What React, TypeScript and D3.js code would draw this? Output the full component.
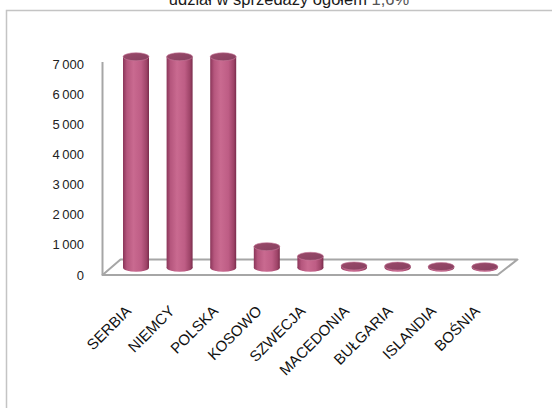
import React from "react";
import * as d3 from "d3";

const categories = ["SERBIA", "NIEMCY", "POLSKA", "KOSOWO", "SZWECJA", "MACEDONIA", "BUŁGARIA", "ISLANDIA", "BOŚNIA"];
const values = [7000, 7000, 7000, 700, 380, 60, 55, 40, 35];
const tickValues = [0, 1000, 2000, 3000, 4000, 5000, 6000, 7000];
const titleMain = "udział  w sprzedaży ogółem ";
const titleValue = "1,6%";

const W = 552;
const H = 408;

const pl = d3.formatLocale({ decimal: ",", thousands: "\u2009", grouping: [3], currency: ["", " zł"] });
const fmt = pl.format(",d");

export default function App() {
  const x = d3.scaleBand<string>().domain(categories).range([114.2, 506.6]).paddingInner(0).paddingOuter(0);
  const y = d3.scaleLinear().domain([0, 7000]).range([275, 64]);

  // floor geometry (oblique projection)
  const frontY = 275;
  const backY = 259.5;
  const depthDx = 20;
  const floorLeft = 102.5;
  const floorRight = 497.5;
  const baseY = (frontY + backY) / 2 + 0.5;
  const barW = 26;
  const ry = 4;

  const font = "'Liberation Sans', Arial, sans-serif";

  return (
    <svg width={W} height={H} style={{ position: "absolute", left: 0, top: 0, background: "#fff" }}>
      <defs>
        <linearGradient id="cyl" x1="0" x2="1" y1="0" y2="0">
          <stop offset="0%" stopColor="#8a3559" />
          <stop offset="15%" stopColor="#b5567d" />
          <stop offset="40%" stopColor="#c96a90" />
          <stop offset="70%" stopColor="#be5d85" />
          <stop offset="90%" stopColor="#9e4468" />
          <stop offset="100%" stopColor="#7a2c4c" />
        </linearGradient>
        <linearGradient id="cap" x1="0" x2="1" y1="0" y2="1">
          <stop offset="0%" stopColor="#9a4a6a" />
          <stop offset="100%" stopColor="#874060" />
        </linearGradient>
      </defs>

      {/* chart frame */}
      <rect x={6.5} y={10.5} width={W + 20} height={H + 20} fill="none" stroke="#c4c4c4" strokeWidth={1.5} />

      {/* title */}
      <text x={289} y={5} textAnchor="middle" fontFamily={font} fontSize={16.5} fill="#1a1a1a">
        {titleMain}
        <tspan fill="#555">{titleValue}</tspan>
      </text>

      {/* floor */}
      <path
        d={`M${floorLeft},${frontY} L${floorRight},${frontY} L${floorRight + depthDx},${backY} L${floorLeft + depthDx - 2},${backY} Z`}
        fill="#fff"
        stroke="#a6a6a6"
        strokeWidth={2}
        strokeLinejoin="round"
      />
      {/* vertical axis */}
      <line x1={floorLeft} x2={floorLeft} y1={62} y2={frontY} stroke="#a6a6a6" strokeWidth={2} />

      {/* y tick labels */}
      {tickValues.map((t) => (
        <text key={t} x={84} y={y(t)} dy="0.35em" textAnchor="end" fontFamily={font} fontSize={13} fill="#222">
          {fmt(t)}
        </text>
      ))}

      {/* cylinders */}
      {categories.map((c, i) => {
        const cx = (x(c) as number) + x.bandwidth() / 2;
        const h = frontY - y(values[i]);
        const top = baseY - h;
        const rx = barW / 2;
        return (
          <g key={c}>
            <ellipse cx={cx} cy={baseY} rx={rx} ry={ry} fill="url(#cyl)" />
            <rect x={cx - rx} y={top} width={barW} height={Math.max(0, baseY - top)} fill="url(#cyl)" />
            <ellipse cx={cx} cy={top} rx={rx} ry={ry} fill="url(#cap)" stroke="#c7799a" strokeWidth={0.6} />
          </g>
        );
      })}

      {/* category labels */}
      {categories.map((c) => {
        const cx = (x(c) as number) + x.bandwidth() / 2;
        const ex = cx - 4;
        const ey = 312;
        return (
          <text
            key={c}
            x={ex}
            y={ey}
            textAnchor="end"
            transform={`rotate(-45 ${ex} ${ey})`}
            fontFamily={font}
            fontSize={15}
            fill="#111"
          >
            {c}
          </text>
        );
      })}
    </svg>
  );
}
